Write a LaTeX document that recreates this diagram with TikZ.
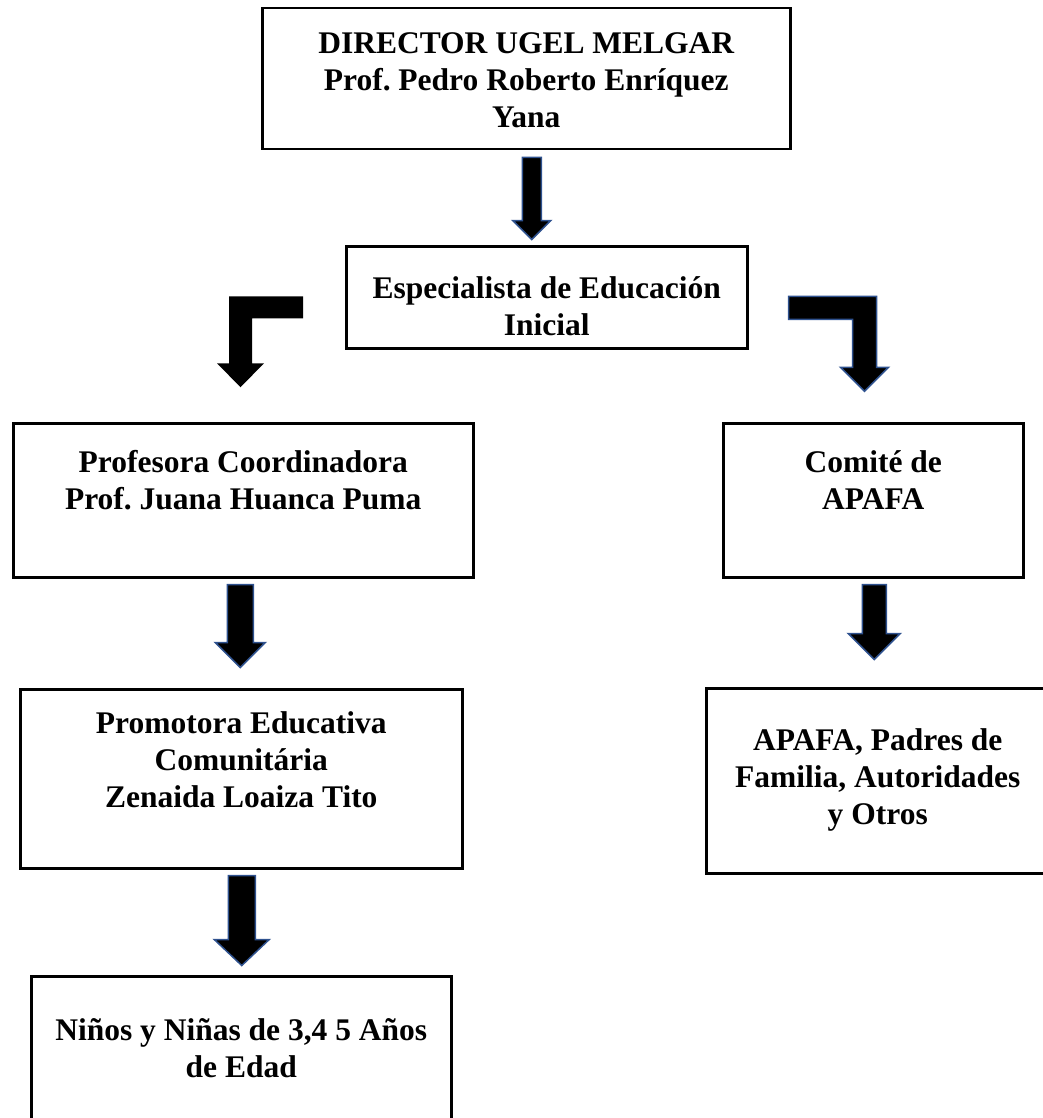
\documentclass[tikz,border=0pt]{standalone}
\usepackage{fontspec}
\setmainfont{Liberation Serif}
\usetikzlibrary{positioning,calc}
\definecolor{arrowblue}{HTML}{2F528F}
\frenchspacing
\begin{document}
\begin{tikzpicture}[x=1pt, y=-1pt,
  box/.style={draw, line width=2.5pt, rectangle, anchor=north west, inner sep=0pt},
  txt/.style={align=center, inner sep=0pt, font=\bfseries\fontsize{31.5}{37}\selectfont},
  blockarrow/.style={fill=black, draw=arrowblue, line width=1.5pt, line join=miter}]
\useasboundingbox (0,0) rectangle (1043,1118);

% Boxes of the chart
\node[box, minimum width=528, minimum height=141] (director) at (261,7) {};
\node[txt, below=25pt of director.north] (directorText) {DIRECTOR UGEL MELGAR\\Prof. Pedro Roberto Enríquez\\Yana};
\node[box, minimum width=401, minimum height=102] (especialista) at (345,245) {};
\node[txt, below=31pt of especialista.north] (especialistaText) {Especialista de Educación\\Inicial};
\node[box, minimum width=460, minimum height=154] (profesora) at (12,422) {};
\node[txt, below=28pt of profesora.north] (profesoraText) {Profesora Coordinadora\\Prof. Juana Huanca Puma};
\node[box, minimum width=300, minimum height=154] (comite) at (722,422) {};
\node[txt, below=28pt of comite.north] (comiteText) {Comité de\\APAFA};
\node[box, minimum width=442, minimum height=179] (promotora) at (19,688) {};
\node[txt, below=23pt of promotora.north] (promotoraText) {Promotora Educativa\\Comunitária\\Zenaida Loaiza Tito};
\node[box, minimum width=343, minimum height=185] (apafa) at (705,687) {};
\node[txt, below=41pt of apafa.north] (apafaText) {APAFA, Padres de\\Familia, Autoridades\\y Otros};
\node[box, minimum width=420, minimum height=160] (ninos) at (30,975) {};
\node[txt, below=43pt of ninos.north] (ninosText) {Niños y Niñas de 3,4 5 Años\\de Edad};

% Block arrows between the boxes
\filldraw[blockarrow] ($(director.south)+(-4,7)$) -- ++(19,0) -- ++(0,63) -- ++(9.5,0) -- ++(-19,19) -- ++(-19,-19) -- ++(9.5,0) -- cycle;
\fill[black] ($(especialista.west)+(-42,-1)$) -- ++(-74,0) -- ++(0,67) -- ++(-12,0) -- ++(23.5,24) -- ++(23.5,-24) -- ++(-12,0) -- ++(0,-45) -- ++(51,0) -- cycle;
\filldraw[blockarrow] ($(especialista.east)+(40,-1)$) -- ++(88,0) -- ++(0,71) -- ++(12,0) -- ++(-24,24) -- ++(-24,-24) -- ++(12,0) -- ++(0,-48) -- ++(-64,0) -- cycle;
\filldraw[blockarrow] ($(profesora.south)+(-16,6)$) -- ++(26,0) -- ++(0,58) -- ++(12,0) -- ++(-25,25) -- ++(-25,-25) -- ++(12,0) -- cycle;
\filldraw[blockarrow] ($(comite.south)+(-11,6)$) -- ++(24,0) -- ++(0,49) -- ++(14,0) -- ++(-26,26) -- ++(-26,-26) -- ++(14,0) -- cycle;
\filldraw[blockarrow] ($(promotora.south)+(-13,6)$) -- ++(27,0) -- ++(0,64) -- ++(14,0) -- ++(-27.5,26) -- ++(-27.5,-26) -- ++(14,0) -- cycle;
\end{tikzpicture}
\end{document}
